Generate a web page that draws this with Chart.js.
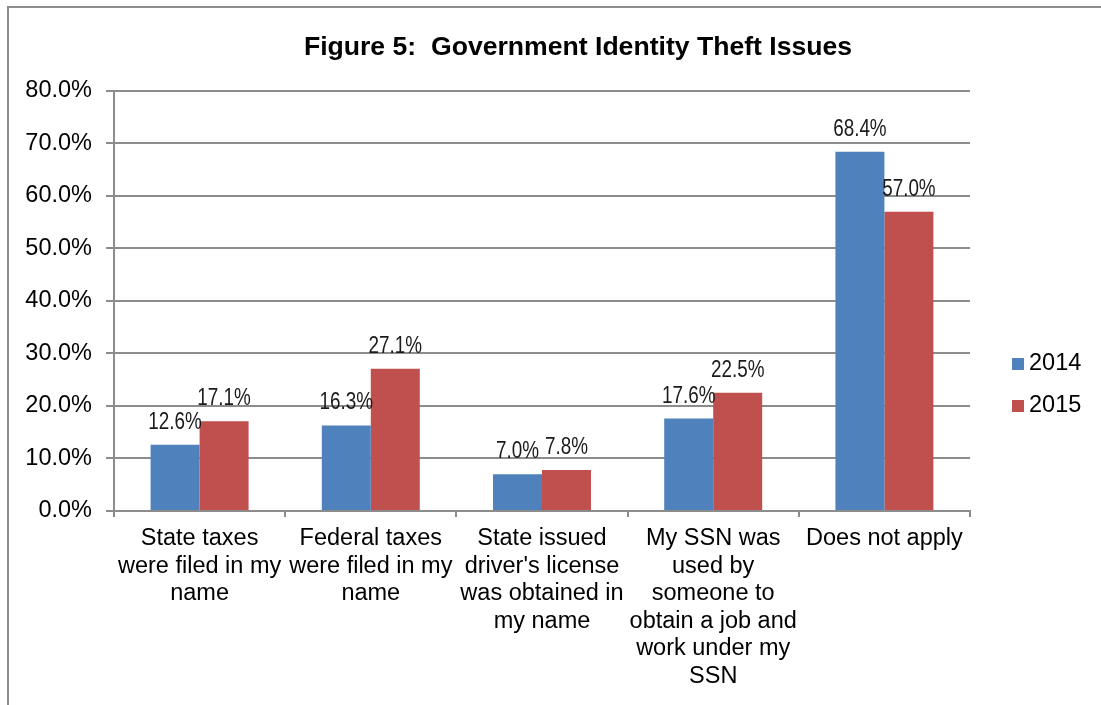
<!DOCTYPE html>
<html>
<head>
<meta charset="utf-8">
<title>Figure 5: Government Identity Theft Issues</title>
<script src="https://cdn.jsdelivr.net/npm/chart.js@4.4.1/dist/chart.umd.min.js"></script>
<style>
  html, body { margin: 0; padding: 0; background: #ffffff; overflow: hidden; }
  #frame {
    position: absolute; left: 7px; top: 6px; width: 1300px; height: 900px;
    border: 2px solid #8c8c8c; box-sizing: border-box;
  }
  #c { position: absolute; left: 9px; top: 8px; }
</style>
</head>
<body>
<div id="frame"></div>
<canvas id="c" width="1138" height="760"></canvas>
<script>
// Survey categories (multi-line axis labels)
const categories = [
  ["State taxes", "were filed in my", "name"],
  ["Federal taxes", "were filed in my", "name"],
  ["State issued", "driver's license", "was obtained in", "my name"],
  ["My SSN was", "used by", "someone to", "obtain a job and", "work under my", "SSN"],
  ["Does not apply"]
];

// Share of respondents, in percent
const values2014 = [12.6, 16.3, 7.0, 17.6, 68.4];
const values2015 = [17.1, 27.1, 7.8, 22.5, 57.0];

const seriesNames = ["2014", "2015"];
const seriesColors = ["#4F81BD", "#C0504D"];

// Value axis tick labels, 0% to 80% in steps of 10
const yTickValues = [0, 10, 20, 30, 40, 50, 60, 70, 80];
const yTickLabels = ["0.0%", "10.0%", "20.0%", "30.0%", "40.0%", "50.0%", "60.0%", "70.0%", "80.0%"];

const titleText = "Figure 5:  Government Identity Theft Issues";

const SANS = "'Liberation Sans', Arial, sans-serif";
const GRID = "#8c8c8c";

// Percent labels above each bar, in a narrow (horizontally condensed) face
const barValueLabels = {
  id: 'barValueLabels',
  afterDatasetsDraw(chart) {
    const ctx = chart.ctx;
    chart.data.datasets.forEach((ds, di) => {
      chart.getDatasetMeta(di).data.forEach((bar, i) => {
        ctx.save();
        ctx.font = "23px " + SANS;
        ctx.fillStyle = "#1a1a1a";
        ctx.textAlign = "center";
        ctx.textBaseline = "alphabetic";
        ctx.translate(bar.x, bar.y - 16);
        ctx.scale(0.82, 1);
        ctx.fillText(ds.data[i].toFixed(1) + "%", 0, 0);
        ctx.restore();
      });
    });
  }
};

// Legend at the right of the plot, square swatches
const sideLegend = {
  id: 'sideLegend',
  afterDraw(chart) {
    const ctx = chart.ctx;
    const area = chart.chartArea;
    const x = area.right + 42;
    const yStart = 356;
    const step = 42;
    ctx.save();
    ctx.font = "23.5px " + SANS;
    ctx.textAlign = "left";
    ctx.textBaseline = "middle";
    chart.data.datasets.forEach((ds, i) => {
      const cy = yStart + i * step;
      ctx.fillStyle = ds.backgroundColor;
      ctx.fillRect(x, cy - 6, 12, 12);
      ctx.fillStyle = "#000000";
      ctx.fillText(ds.label, x + 17, cy);
    });
    ctx.restore();
  }
};

new Chart(document.getElementById('c'), {
  type: 'bar',
  data: {
    labels: categories,
    datasets: [
      { label: seriesNames[0], data: values2014, backgroundColor: seriesColors[0] },
      { label: seriesNames[1], data: values2015, backgroundColor: seriesColors[1] }
    ]
  },
  options: {
    responsive: false,
    devicePixelRatio: 1,
    animation: false,
    events: [],
    datasets: {
      bar: { categoryPercentage: 0.5724, barPercentage: 1.0, borderWidth: 0 }
    },
    layout: { padding: { left: 0, right: 0, top: 0, bottom: 67 } },
    plugins: {
      legend: { display: false },
      tooltip: { enabled: false },
      title: {
        display: true,
        text: titleText,
        color: "#000000",
        font: { family: SANS, size: 26.6, weight: 'bold' },
        padding: { top: 24, bottom: 27 }
      }
    },
    scales: {
      x: {
        grid: { display: true, drawOnChartArea: false, offset: true, tickLength: 6, color: GRID, lineWidth: 2 },
        border: { display: true, color: GRID, width: 2 },
        ticks: {
          color: "#000000",
          font: { family: SANS, size: 23.5, lineHeight: '27.5px' },
          padding: 8,
          maxRotation: 0,
          minRotation: 0,
          autoSkip: false
        },
        afterFit(scale) { scale.height = 190; }
      },
      y: {
        min: 0,
        max: 80,
        grid: { color: GRID, lineWidth: 2, tickLength: 8 },
        border: { display: true, color: GRID, width: 2 },
        afterBuildTicks(scale) { scale.ticks = yTickValues.map(v => ({ value: v })); },
        ticks: {
          color: "#000000",
          font: { family: SANS, size: 23.5 },
          padding: 14,
          callback(value) {
            const i = yTickValues.indexOf(value);
            return i >= 0 ? yTickLabels[i] : "";
          }
        },
        afterFit(scale) { scale.width = 105; }
      },
      // empty right-hand band that holds the legend
      legendBand: {
        type: 'linear',
        position: 'right',
        display: true,
        grid: { display: false },
        border: { display: false },
        ticks: { display: false },
        afterFit(scale) { scale.width = 177; }
      }
    }
  },
  plugins: [barValueLabels, sideLegend]
});
</script>
</body>
</html>
